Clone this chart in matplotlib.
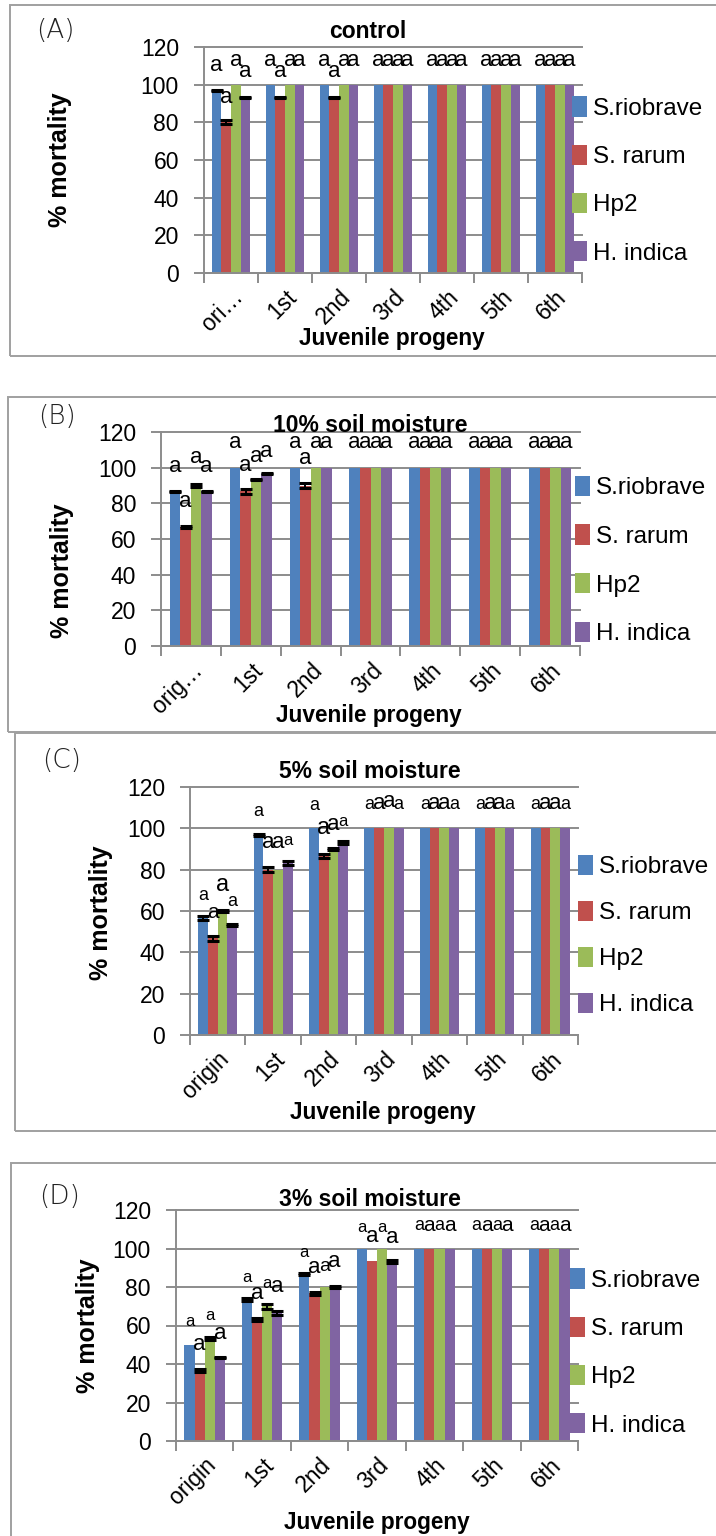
import matplotlib
matplotlib.use('Agg')
import matplotlib.pyplot as plt
from matplotlib.patches import Rectangle, Patch
import numpy as np

W, H = 716, 1536
plt.rcParams['font.family'] = ['Liberation Sans', 'DejaVu Sans']

# ---------------- data ----------------
series_names = ['S.riobrave', 'S. rarum', 'Hp2', 'H. indica']
series_colors = ['#4F81BD', '#C0504D', '#9BBB59', '#8064A2']

categories_A = ['ori…', '1st', '2nd', '3rd', '4th', '5th', '6th']
categories_B = ['orig…', '1st', '2nd', '3rd', '4th', '5th', '6th']
categories_CD = ['origin', '1st', '2nd', '3rd', '4th', '5th', '6th']

# (A) control
A_riobrave = [96.7, 100, 100, 100, 100, 100, 100]
A_rarum    = [80.0, 93.3, 93.3, 100, 100, 100, 100]
A_hp2      = [100, 100, 100, 100, 100, 100, 100]
A_indica   = [93.3, 100, 100, 100, 100, 100, 100]
A_err_riobrave = [0.3, 0, 0, 0, 0, 0, 0]
A_err_rarum    = [1.1, 0.4, 0.4, 0, 0, 0, 0]
A_err_hp2      = [0, 0, 0, 0, 0, 0, 0]
A_err_indica   = [0.4, 0, 0, 0, 0, 0, 0]

# (B) 10% soil moisture
B_riobrave = [86.7, 100, 100, 100, 100, 100, 100]
B_rarum    = [66.7, 86.7, 90.0, 100, 100, 100, 100]
B_hp2      = [90.0, 93.3, 100, 100, 100, 100, 100]
B_indica   = [86.7, 96.7, 100, 100, 100, 100, 100]
B_err_riobrave = [0.4, 0, 0, 0, 0, 0, 0]
B_err_rarum    = [0.4, 1.2, 1.2, 0, 0, 0, 0]
B_err_hp2      = [0.6, 0.4, 0, 0, 0, 0, 0]
B_err_indica   = [0.4, 0.4, 0, 0, 0, 0, 0]

# (C) 5% soil moisture
C_riobrave = [56.7, 96.7, 100, 100, 100, 100, 100]
C_rarum    = [46.7, 80.0, 86.7, 100, 100, 100, 100]
C_hp2      = [60.0, 80.0, 90.0, 100, 100, 100, 100]
C_indica   = [53.3, 83.3, 93.3, 100, 100, 100, 100]
C_err_riobrave = [1.0, 0.4, 0, 0, 0, 0, 0]
C_err_rarum    = [1.2, 1.3, 0.9, 0, 0, 0, 0]
C_err_hp2      = [0.6, 0, 0.7, 0, 0, 0, 0]
C_err_indica   = [0.5, 0.8, 0.8, 0, 0, 0, 0]

# (D) 3% soil moisture
D_riobrave = [50.0, 73.3, 86.7, 100, 100, 100, 100]
D_rarum    = [36.7, 63.3, 76.7, 93.3, 100, 100, 100]
D_hp2      = [53.3, 70.0, 80.0, 100, 100, 100, 100]
D_indica   = [43.3, 66.7, 80.0, 93.3, 100, 100, 100]
D_err_riobrave = [0, 0.8, 0.4, 0, 0, 0, 0]
D_err_rarum    = [0.8, 0.8, 0.8, 0, 0, 0, 0]
D_err_hp2      = [0.6, 1.2, 0, 0, 0, 0, 0]
D_err_indica   = [0.4, 1.0, 0.4, 0.8, 0, 0, 0]

# significance letters ("a") and the height at which each one is printed
A_letter_y = [[110, 113, 113, 113, 113, 113, 113],
              [93, 107, 107, 113, 113, 113, 113],
              [113, 113, 113, 113, 113, 113, 113],
              [107, 113, 113, 113, 113, 113, 113]]
B_letter_y = [[100.5, 114, 114, 114, 114, 114, 114],
              [81, 101, 105, 114, 114, 114, 114],
              [105.5, 106, 114, 114, 114, 114, 114],
              [100.5, 109, 114, 114, 114, 114, 114]]
C_letter_y = [[67.7, 108, 111, 111.5, 111.5, 111.5, 111.5],
              [59.5, 93, 100, 112, 112, 112, 112],
              [72.6, 93, 102, 113, 112, 112, 112],
              [64.4, 94, 103.5, 111.5, 111.5, 111.5, 111.5]]
D_letter_y = [[62, 85, 98, 111, 112, 112, 112],
              [50, 76.4, 90, 106, 112, 112, 112],
              [65, 81.6, 90.4, 111, 112, 112, 112],
              [56, 80, 93, 105.5, 112, 112, 112]]

# letter font sizes (style)
A_letter_fs = [[16] * 7] * 4
B_letter_fs = [[16] * 7] * 4
C_letter_fs = [[13, 13, 13, 13, 13, 13, 13],
               [15, 16, 17, 16, 16, 16, 16],
               [17, 16, 16, 16, 16, 16, 16],
               [13, 12, 12, 13, 13, 13, 13]]
D_letter_fs = [[12, 12, 12, 12, 13, 13, 13],
               [16, 16, 16, 16, 15, 15, 15],
               [12, 12, 14, 12, 13, 13, 13],
               [16, 16, 16, 16, 15, 15, 15]]

# ---------------- figure ----------------
fig = plt.figure(figsize=(W / 100, H / 100), dpi=100)
fig.patch.set_facecolor('white')

def fx(x):
    return x / W

def fy(y):
    return 1 - y / H

GRID = '#8C8C8C'
TICK_FS = 16.5
LEG_FS = 17.5
TITLE_FS = 16.5
YLAB_FS = 18
XLAB_FS = 16.3

panels = [
    dict(tag='(A)', box=(204, 582, 47, 273), cats=categories_A,
         vals=[A_riobrave, A_rarum, A_hp2, A_indica],
         errs=[A_err_riobrave, A_err_rarum, A_err_hp2, A_err_indica],
         ly=A_letter_y, lfs=A_letter_fs, title='control',
         title_xy=(368, 31), tag_xy=(55, 31), ylabel_xy=(60, 160),
         xlabel_xy=(392, 338), frame=(10, 5, 356), leg=(572, 180.5), lsp=1.02),
    dict(tag='(B)', box=(161, 580, 432, 646), cats=categories_B,
         vals=[B_riobrave, B_rarum, B_hp2, B_indica],
         errs=[B_err_riobrave, B_err_rarum, B_err_hp2, B_err_indica],
         ly=B_letter_y, lfs=B_letter_fs, title='10% soil moisture',
         title_xy=(370, 426), tag_xy=(57, 417), ylabel_xy=(62, 571),
         xlabel_xy=(369, 715), frame=(8, 397, 732), leg=(575, 560.5), lsp=1.04),
    dict(tag='(C)', box=(190, 578, 787, 1035), cats=categories_CD,
         vals=[C_riobrave, C_rarum, C_hp2, C_indica],
         errs=[C_err_riobrave, C_err_rarum, C_err_hp2, C_err_indica],
         ly=C_letter_y, lfs=C_letter_fs, title='5% soil moisture',
         title_xy=(370, 771), tag_xy=(62, 761), ylabel_xy=(101, 913),
         xlabel_xy=(383, 1113), frame=(15, 733, 1131), leg=(578, 935.5), lsp=0.92),
    dict(tag='(D)', box=(176, 578, 1210, 1441), cats=categories_CD,
         vals=[D_riobrave, D_rarum, D_hp2, D_indica],
         errs=[D_err_riobrave, D_err_rarum, D_err_hp2, D_err_indica],
         ly=D_letter_y, lfs=D_letter_fs, title='3% soil moisture',
         title_xy=(370, 1200), tag_xy=(59, 1196), ylabel_xy=(88, 1326),
         xlabel_xy=(377, 1523), frame=(11, 1163, 1545), leg=(570, 1352.5), lsp=1.02),
]

bw = 0.176
for p in panels:
    x0, x1, ytop, ybot = p['box']
    ax = fig.add_axes([fx(x0), fy(ybot), (x1 - x0) / W, (ybot - ytop) / H])
    ax.set_xlim(0, 7)
    ax.set_ylim(0, 120)
    xc = np.arange(len(p['cats'])) + 0.5
    for i, (v, e, c) in enumerate(zip(p['vals'], p['errs'], series_colors)):
        v = np.asarray(v, float)
        e = np.asarray(e, float)
        xb = xc + (i - 1.5) * bw
        ax.bar(xb, v, width=bw, color=c, zorder=2, label=series_names[i])
        m = e > 0
        ax.errorbar(xb[m], v[m], yerr=e[m], fmt='none', ecolor='black',
                    elinewidth=1.4, capsize=4, capthick=2.2, zorder=3)
        for j in range(len(v)):
            ax.text(xb[j], p['ly'][i][j], 'a', ha='center', va='center',
                    fontsize=p['lfs'][i][j], zorder=4, clip_on=False)
    # axes styling
    ax.set_yticks(np.arange(0, 121, 20))
    ax.yaxis.grid(True, color=GRID, lw=1.4, zorder=0)
    for gl in ax.get_ygridlines():
        gl.set_clip_on(False)
    ax.set_axisbelow(True)
    for s in ['top', 'right']:
        ax.spines[s].set_visible(False)
    for s in ['left', 'bottom']:
        ax.spines[s].set_color(GRID)
        ax.spines[s].set_linewidth(1.4)
    ax.tick_params(axis='y', direction='out', length=7, width=1.4, color=GRID,
                   labelsize=TICK_FS, pad=11)
    ax.set_xticks(np.arange(0, 8))
    ax.set_xticklabels([])
    ax.set_xticks(xc, minor=True)
    ax.set_xticklabels(p['cats'], minor=True, rotation=45, ha='right',
                       rotation_mode='anchor', fontsize=TICK_FS)
    ax.tick_params(axis='x', which='major', direction='out', length=7,
                   width=1.4, color=GRID)
    ax.tick_params(axis='x', which='minor', length=0, pad=9)
    # texts
    fig.text(fx(p['title_xy'][0]), fy(p['title_xy'][1]), p['title'],
             ha='center', va='center', fontsize=TITLE_FS, fontweight='bold')
    fig.text(fx(p['tag_xy'][0]), fy(p['tag_xy'][1]), p['tag'],
             ha='center', va='center', fontsize=19, family='DejaVu Sans',
             fontweight='light', color='#222222')
    fig.text(fx(p['ylabel_xy'][0]), fy(p['ylabel_xy'][1]), '% mortality',
             ha='center', va='center', rotation=90, fontsize=YLAB_FS,
             fontweight='bold')
    fig.text(fx(p['xlabel_xy'][0]), fy(p['xlabel_xy'][1]), 'Juvenile progeny',
             ha='center', va='center', fontsize=XLAB_FS, fontweight='bold')
    # legend
    handles = [Patch(facecolor=c) for c in series_colors]
    ax.legend(handles, series_names, loc='center left',
              bbox_to_anchor=(fx(p['leg'][0]), fy(p['leg'][1])),
              bbox_transform=fig.transFigure, frameon=False, fontsize=LEG_FS,
              handlelength=0.62, handleheight=0.9, handletextpad=0.25,
              labelspacing=p['lsp'], borderpad=0, borderaxespad=0)
    # panel frame
    left, top, bottom = p['frame']
    fig.add_artist(Rectangle((fx(left), fy(bottom)), 1.5, (bottom - top) / H,
                             transform=fig.transFigure, fill=False,
                             edgecolor='#A0A0A0', lw=1.4))

fig.savefig('out.png', dpi=100, facecolor='white')
